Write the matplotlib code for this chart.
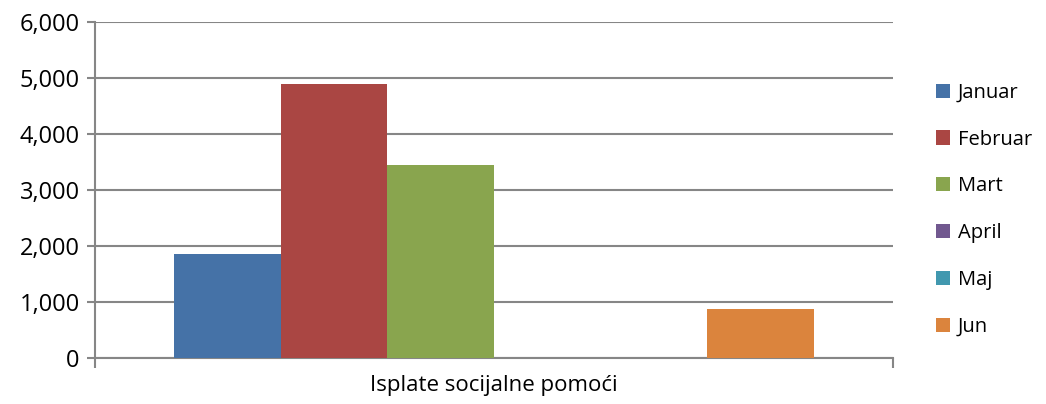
import numpy as np
import matplotlib.pyplot as plt
from matplotlib.ticker import FuncFormatter

months = ["Januar", "Februar", "Mart", "April", "Maj", "Jun"]
values = [1857, 4893, 3446, 0, 0, 875]
colors = ["#4572A7", "#AA4643", "#89A54E", "#71588F", "#4198AF", "#DB843D"]
category = "Isplate socijalne pomoći"

plt.rcParams['font.family'] = ['Open Sans', 'DejaVu Sans']

fig = plt.figure(figsize=(10.46, 4.04), dpi=100)
ax = fig.add_axes([0.0908, 0.1139, 0.7629, 0.8316])

w = 0.802 / len(months)
offsets = (np.arange(len(months)) - (len(months) - 1) / 2) * w
handles = []
for off, v, c, m in zip(offsets, values, colors, months):
    h = ax.bar(off, v, width=w, color=c, label=m, zorder=3)
    handles.append(h)

ax.set_xlim(-0.5, 0.5)
ax.set_ylim(0, 6000)
ax.set_yticks(range(0, 6001, 1000))
ax.yaxis.set_major_formatter(FuncFormatter(lambda v, p: f"{int(v):,}"))
ax.grid(axis='y', color='#868686', linewidth=1.5, zorder=0)
ax.set_axisbelow(True)

for s in ['top', 'right']:
    ax.spines[s].set_visible(False)
for s in ['left', 'bottom']:
    ax.spines[s].set_color('#868686')
    ax.spines[s].set_linewidth(1.5)

ax.set_xticks([-0.5, 0.5])
ax.set_xticklabels([])
ax.tick_params(axis='x', length=7, width=1.5, color='#868686', direction='out')
ax.tick_params(axis='y', length=6, width=1.5, color='#868686', labelsize=17, pad=5)
ax.set_xlabel(category, fontsize=16, labelpad=2)

fig.legend(handles, months, loc='upper left', bbox_to_anchor=(0.887, 0.815),
           frameon=False, fontsize=14.5, handlelength=0.7, handleheight=0.7,
           handletextpad=0.4, labelspacing=1.33, borderaxespad=0)

plt.savefig('out.png', dpi=100)
